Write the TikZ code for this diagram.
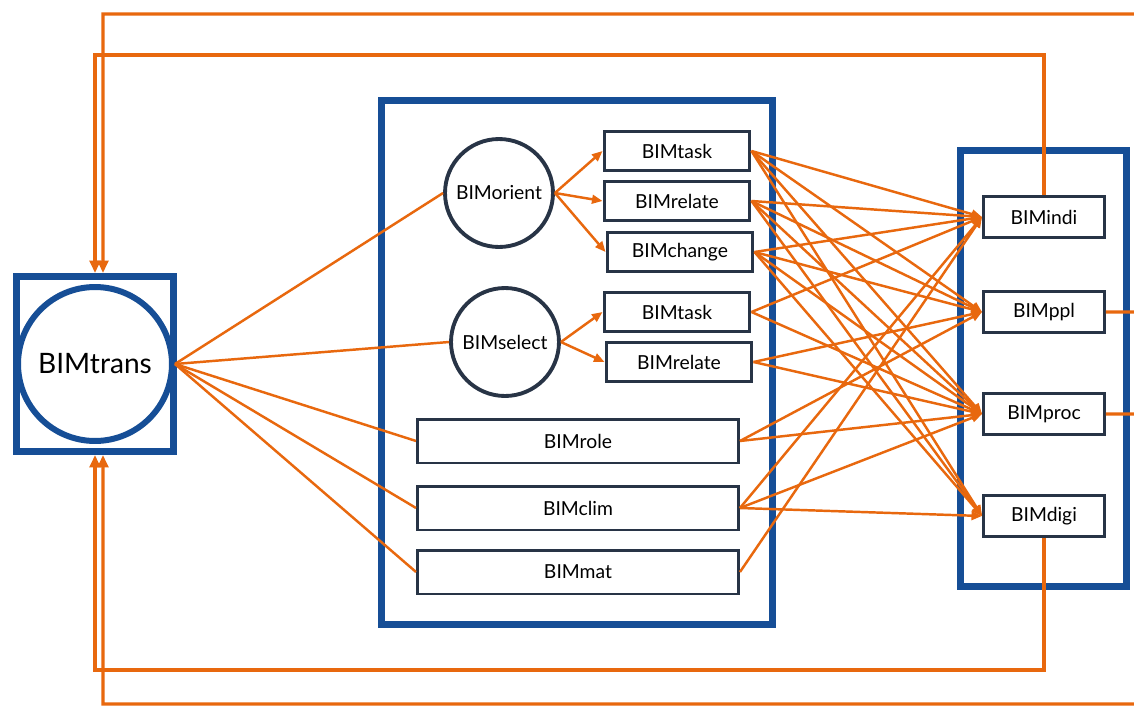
\documentclass[tikz,border=0pt]{standalone}
\usepackage{fontspec}
\setmainfont{Lato}
\usetikzlibrary{arrows.meta}
\definecolor{bimblue}{RGB}{22,78,150}
\definecolor{bimnavy}{RGB}{40,52,70}
\definecolor{bimorange}{RGB}{232,104,14}
\tikzset{
  bimnode/.style = {align=center, inner sep=0pt, text centered,
    text=black, font=\fontsize{11}{13}\selectfont},
  bim_c/.style = {bimnode, circle, draw=bimnavy, line width=2.2pt,
    minimum size=2.16cm},% cercle interne
  bim_b/.style = {bimnode, rectangle, draw=bimnavy, line width=1.7pt,
    minimum width=2.92cm, minimum height=0.78cm},% petite boite
  bim_w/.style = {bim_b, minimum width=6.42cm, minimum height=0.88cm},% boite large
  bim_r/.style = {bim_b, minimum width=2.42cm, minimum height=0.82cm},% boite droite
  bim_t/.style = {bimnode, circle, draw=bimblue, line width=3.4pt,
    minimum size=3.08cm, font=\fontsize{16}{19}\selectfont},
  bigframe/.style = {draw=bimblue, line width=4pt},
  link/.style = {draw=bimorange, line width=1.4pt},
  arr/.style = {link, -{Triangle[length=6pt,width=5pt]}},
  fback/.style = {draw=bimorange, line width=1.9pt, -{Triangle[length=7pt,width=6pt]}}
}
\begin{document}
\begin{tikzpicture}[x=0.02cm, y=-0.02cm]
\useasboundingbox (0,0) rectangle (1134,707);
\clip (0,0) rectangle (1134,707);
\fill[white] (0,0) rectangle (1134,707);

% cadres
\node[bigframe, minimum width=3.14cm, minimum height=3.5cm, inner sep=0pt] (tbox) at (95,364) {};
\draw[bigframe] (381.5,100.5) rectangle (772.5,624.5);
\draw[bigframe] (960.5,150.5) rectangle (1126.5,586.5);

\node[bim_t] (trans) at (95,364) {BIMtrans};
\node[bim_c] (orient) at (499,193) {BIMorient};
\node[bim_c] (select) at (505,342) {BIMselect};
\node[bim_b] (task1) at (677,151) {BIMtask};
\node[bim_b] (rel1) at (677,201) {BIMrelate};
\node[bim_b] (change) at (680,252) {BIMchange};
\node[bim_b] (task2) at (677,312) {BIMtask};
\node[bim_b] (rel2) at (679,362) {BIMrelate};
\node[bim_w] (role) at (578,441) {BIMrole};
\node[bim_w] (clim) at (578,508) {BIMclim};
\node[bim_w] (mat) at (578,572) {BIMmat};
\node[bim_r] (indi) at (1044,217) {BIMindi};
\node[bim_r] (ppl) at (1044,312) {BIMppl};
\node[bim_r] (proc) at (1044,414) {BIMproc};
\node[bim_r] (digi) at (1044,516) {BIMdigi};

\foreach \t in {orient,select,role,clim,mat}
  \draw[link] (trans.east) -- (\t.west);
\foreach \t in {task1,rel1,change}
  \draw[arr] (orient.east) -- (\t.west);
\foreach \t in {task2,rel2}
  \draw[arr] (select.east) -- (\t.west);

\foreach \s/\t in {task1/indi, task1/ppl, task1/proc, task1/digi,
    rel1/indi, rel1/ppl, rel1/proc, rel1/digi,
    change/indi, change/ppl, change/proc, change/digi,
    task2/indi, task2/proc, rel2/ppl, rel2/proc,
    role/ppl, role/proc, clim/indi, clim/proc, clim/digi, mat/indi}
  \draw[arr] (\s.east) -- (\t.west);

% boucles de retour
\coordinate (t1) at ([xshift=0.16cm]tbox.north);
\coordinate (b1) at ([xshift=0.16cm]tbox.south);
\draw[fback] (indi.north) |- (95,55) -- (tbox.north);
\draw[fback] (ppl.east) -- (1150,312) |- (103,14) -- (t1);
\draw[fback] (digi.south) |- (95,670) -- (tbox.south);
\draw[fback] (proc.east) -- (1150,414) |- (103,704) -- (b1);
\end{tikzpicture}
\end{document}
